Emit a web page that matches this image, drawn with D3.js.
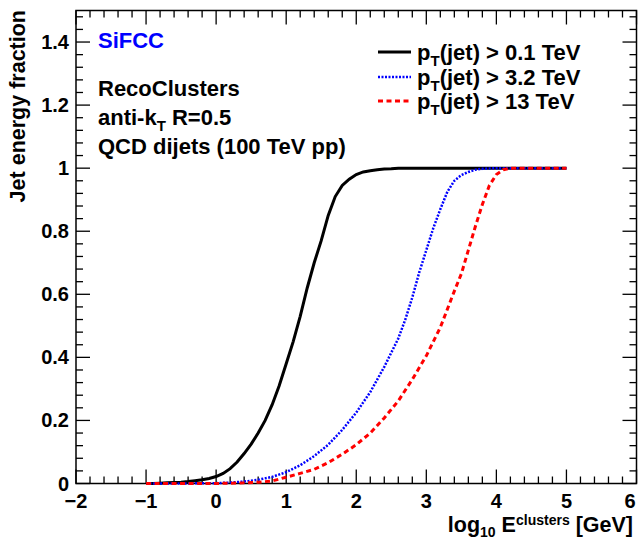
<!DOCTYPE html>
<html><head><meta charset="utf-8">
<script src="https://cdn.jsdelivr.net/npm/d3@7"></script>
<style>
html,body{margin:0;padding:0;background:#fff;}
text{font-family:"Liberation Sans",Arial,Helvetica,sans-serif;font-weight:bold;}
</style></head>
<body><svg id="c" width="640" height="539"></svg>
<script>
// ---- data ----
const xLow = [-1.0,-0.9,-0.8,-0.7,-0.6,-0.5,-0.4,-0.3,-0.2,-0.1,0.0,0.1,0.2,0.3,0.4,0.5,0.6,0.7,0.8,0.9,1.0,1.1,1.2,1.3,1.4,1.5,1.6,1.7,1.8,1.9,2.0,2.1,2.2,2.3,2.4,2.5,2.6,3.0,4.0,5.0];
const yLow = [0,0,0.001,0.002,0.003,0.004,0.006,0.009,0.012,0.016,0.022,0.032,0.047,0.068,0.095,0.125,0.16,0.2,0.25,0.31,0.38,0.45,0.53,0.62,0.70,0.77,0.85,0.91,0.945,0.965,0.98,0.988,0.992,0.995,0.997,0.998,1,1,1,1];
const xMid = [-1.0,-0.5,0.0,0.2,0.4,0.6,0.8,1.0,1.2,1.4,1.6,1.8,2.0,2.2,2.4,2.6,2.7,2.8,2.9,3.0,3.1,3.2,3.3,3.4,3.5,3.6,3.7,3.8,4.0,5.0];
const yMid = [0,0,0.001,0.003,0.006,0.012,0.021,0.036,0.058,0.087,0.123,0.17,0.225,0.29,0.37,0.46,0.52,0.59,0.67,0.74,0.81,0.87,0.925,0.96,0.978,0.988,0.995,0.998,1,1];
const xHigh = [-1.0,0.0,0.4,0.6,0.8,1.0,1.2,1.4,1.6,1.8,2.0,2.2,2.4,2.6,2.8,3.0,3.2,3.4,3.5,3.6,3.7,3.8,3.9,4.0,4.1,4.2,5.0];
const yHigh = [0,0,0.002,0.004,0.008,0.02,0.032,0.045,0.066,0.093,0.123,0.16,0.208,0.262,0.33,0.405,0.495,0.61,0.665,0.74,0.815,0.885,0.945,0.98,0.995,1,1];
const legendThresholds = ["0.1 TeV","3.2 TeV","13 TeV"];
const xTicks = [-2,-1,0,1,2,3,4,5,6];
const yTicks = [0,0.2,0.4,0.6,0.8,1,1.2,1.4];
const infoLines = ["RecoClusters","anti-k","QCD dijets (100 TeV pp)"];

// ---- layout ----
const L=76, R=636.5, T=10.5, B=483.5;
const svg=d3.select("#c");
const x=d3.scaleLinear().domain([-2,6]).range([L,R]);
const y=d3.scaleLinear().domain([0,1.5]).range([B,T]);

// frame
svg.append("rect").attr("x",L).attr("y",T).attr("width",R-L).attr("height",B-T)
  .attr("fill","none").attr("stroke","#000").attr("stroke-width",1.5);

// ticks
const xMinor=d3.range(-2,6.0001,0.2).map(v=>+v.toFixed(2));
const yMinor=d3.range(0,1.5001,0.04).map(v=>+v.toFixed(2));
const isMaj=(v,s)=>Math.abs(v/s-Math.round(v/s))<1e-6;
const tg=svg.append("g").attr("stroke","#000").attr("stroke-width",1.3);
xMinor.forEach(v=>{
  const len=isMaj(v,1)?14:7;
  tg.append("line").attr("x1",x(v)).attr("x2",x(v)).attr("y1",B).attr("y2",B-len);
  tg.append("line").attr("x1",x(v)).attr("x2",x(v)).attr("y1",T).attr("y2",T+len);
});
yMinor.forEach(v=>{
  const len=isMaj(v,0.2)?14:7;
  tg.append("line").attr("x1",L).attr("x2",L+len).attr("y1",y(v)).attr("y2",y(v));
  tg.append("line").attr("x1",R).attr("x2",R-len).attr("y1",y(v)).attr("y2",y(v));
});

// tick labels
svg.append("g").selectAll("text").data(xTicks).join("text")
  .attr("x",d=>Math.min(x(d),630)).attr("y",508).attr("text-anchor","middle").attr("font-size",20)
  .text(d=>d<0?"\u2212"+Math.abs(d):String(d));
svg.append("g").selectAll("text").data(yTicks).join("text")
  .attr("x",69).attr("y",d=>y(d)+7).attr("text-anchor","end").attr("font-size",20)
  .text(d=>String(d));

// axis titles
const xt=svg.append("text").attr("x",633).attr("y",532).attr("text-anchor","end").attr("font-size",21.5);
xt.append("tspan").text("log");
xt.append("tspan").attr("font-size",14).attr("dy",5).text("10");
xt.append("tspan").attr("dy",-5).text(" E");
xt.append("tspan").attr("font-size",14).attr("dy",-7).text("clusters");
xt.append("tspan").attr("dy",7).text(" [GeV]");
svg.append("text").attr("transform","translate(25,10) rotate(-90)").attr("text-anchor","end")
  .attr("font-size",21.5).text("Jet energy fraction");

// curves
const line=d3.line().x(d=>x(d[0])).y(d=>y(d[1]));
const curves=[
  {xs:xLow,ys:yLow,color:"#000",dash:null,w:3},
  {xs:xMid,ys:yMid,color:"#0000ff",dash:"2,1.5",w:2.5},
  {xs:xHigh,ys:yHigh,color:"#ff0000",dash:"5,3.5",w:3}
];
curves.forEach(c=>{
  svg.append("path").datum(d3.zip(c.xs,c.ys)).attr("d",line)
    .attr("fill","none").attr("stroke",c.color).attr("stroke-width",c.w)
    .attr("stroke-dasharray",c.dash);
});

// info text
svg.append("text").attr("x",98).attr("y",48).attr("font-size",22).attr("fill","#0000ff").text("SiFCC");
svg.append("text").attr("x",98).attr("y",95.5).attr("font-size",22).text(infoLines[0]);
const ak=svg.append("text").attr("x",98).attr("y",124.5).attr("font-size",22);
ak.append("tspan").text(infoLines[1]);
ak.append("tspan").attr("font-size",15).attr("dy",6).text("T");
ak.append("tspan").attr("dy",-6).text(" R=0.5");
svg.append("text").attr("x",98).attr("y",153.5).attr("font-size",22).text(infoLines[2]);

// legend
const legY=[52,77,101];
curves.forEach((c,i)=>{
  svg.append("line").attr("x1",378).attr("x2",411).attr("y1",legY[i]).attr("y2",legY[i])
    .attr("stroke",c.color).attr("stroke-width",c.w).attr("stroke-dasharray",c.dash);
  const t=svg.append("text").attr("x",417).attr("y",legY[i]+7.5).attr("font-size",22);
  t.append("tspan").text("p");
  t.append("tspan").attr("font-size",15).attr("dy",6).text("T");
  t.append("tspan").attr("dy",-6).text("(jet) > "+legendThresholds[i]);
});
</script></body></html>
